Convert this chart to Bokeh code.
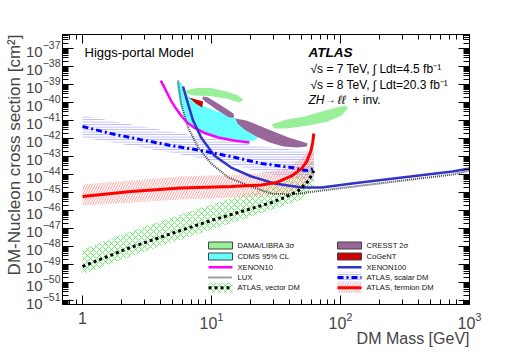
import numpy as np
from bokeh.plotting import figure
from bokeh.models import (Range1d, FixedTicker, LogAxis, Label, LogTickFormatter,
                          CustomJSTickFormatter, Title)
from bokeh.embed import file_html
from bokeh.resources import INLINE

# ---------------- data: DM mass [GeV], cross section [cm^2] ----------------
dama1_m = [6.35, 7.6, 9.95, 13.0, 16.1, 17.7, 16.4, 13.0, 9.6, 7.2, 6.35]
dama1_s = [4.7e-40, 6.4e-40, 6.4e-40, 4.1e-40, 2.45e-40, 1.39e-40, 1.0e-40, 1.66e-40, 2.3e-40, 2.45e-40, 3.16e-40]
dama2_m = [29.2, 38.2, 52.8, 71.6, 93.7, 110, 114, 102, 78.3, 54.7, 38.2, 30.8]
dama2_s = [6.0e-42, 1.15e-41, 1.66e-41, 3.16e-41, 5.3e-41, 6.8e-41, 4.6e-41, 1.9e-41, 8.7e-42, 5.2e-42, 3.6e-42, 3.6e-42]

cdms_m = [5.37, 5.81, 6.35, 7.83, 10.5, 14.2, 17.0, 23.0, 23.7, 21.6, 16.1, 11.2, 8.31, 6.95, 6.16, 5.73, 5.47]
cdms_s = [1.35e-39, 1.35e-39, 3.0e-40, 8.5e-41, 3.6e-41, 1.9e-41, 8.1e-42, 3.5e-42, 1.47e-42, 7.8e-43,
          6.2e-43, 9.6e-43, 1.82e-42, 4.3e-42, 1.5e-41, 8.5e-41, 4.7e-40]

cresst1_m = [8.62, 9.43, 11.9, 14.8, 15.0, 13.7, 10.9, 8.93, 8.47]
cresst1_s = [2.14e-40, 1.9e-40, 6.8e-41, 2.45e-41, 1.47e-41, 1.47e-41, 4.1e-41, 1.15e-40, 1.66e-40]
cresst2_m = [15.3, 18.6, 23.5, 30.3, 39.6, 50.0, 55.7, 54.7, 45.7, 36.2, 28.2, 22.3, 18.0, 15.9]
cresst2_s = [1.29e-41, 1.0e-41, 5.2e-42, 2.45e-42, 1.15e-42, 6.8e-43, 5.3e-43, 3.6e-43, 3.16e-43, 3.6e-43,
             6.0e-43, 1.29e-42, 3.16e-42, 6.8e-42]

cogent_m = [6.70, 8.62, 8.47, 7.60]
cogent_s = [1.9e-40, 1.15e-40, 5.3e-41, 8.7e-41]

xe10_m = [4.05, 4.43, 4.85, 5.31, 5.81, 6.47, 7.33, 9.09, 11.3, 14.8, 19.7]
xe10_s = [1.66e-39, 4.7e-40, 1.29e-40, 4.6e-41, 1.9e-41, 7.8e-42, 4.1e-42, 1.9e-42, 1.15e-42, 7.8e-43, 6.0e-43]

xe100_m = [6.02, 6.47, 7.2, 8.31, 10.5, 14.2, 20.4, 30.8, 50.0, 71.6, 123, 301, 738, 1000]
xe100_s = [7.8e-40, 1.29e-40, 1.0e-41, 1.15e-42, 1.15e-43, 2.45e-44, 7.8e-45, 3.16e-45, 1.9e-45, 1.9e-45,
           3.16e-45, 6.8e-45, 1.47e-44, 2.14e-44]

lux_m = [5.5, 5.81, 6.58, 7.88, 9.95, 13.5, 19.3, 29.2, 41.8, 71.6, 123, 301, 738, 1000]
lux_s = [1.66e-39, 8.7e-41, 4.1e-42, 3.16e-43, 4.1e-44, 6.8e-45, 2.45e-45, 8.7e-46, 7.8e-46, 1.29e-45,
         2.1e-45, 4.6e-45, 1.0e-44, 1.66e-44]

vector_m = [1.0, 2.24, 4.85, 9.95, 20.4, 29.2, 36.9, 47.4, 56.7, 62.1]
vector_s = [7.8e-50, 7.8e-49, 5.2e-48, 2.8e-47, 1.29e-46, 2.8e-46, 5.3e-46, 1.29e-45, 4.6e-45, 1.66e-44]
vector_band_m = [1.0, 2.24, 4.85, 9.95, 20.4, 36.9, 50.0, 62.1]
vector_band_hi = [6.8e-49, 6.0e-48, 4.1e-47, 2.14e-46, 1.0e-45, 4.1e-45, 1.29e-44, 6.0e-44]
vector_band_lo = [2.8e-50, 2.45e-49, 1.66e-48, 8.7e-48, 4.6e-47, 1.9e-46, 4.1e-46, 2.45e-45]

scalar_m = [1.0, 1.65, 2.83, 4.85, 8.31, 14.2, 24.4, 41.8, 54.7, 62.1]
scalar_s = [4.7e-42, 1.9e-42, 8.7e-43, 4.1e-43, 2.14e-43, 1.0e-43, 4.1e-44, 2.45e-44, 1.66e-44, 2.14e-44]
scalar_band_m = [1.0, 2.37, 5.81, 14.2, 24.4, 41.8, 62.1]
scalar_band_hi = [1.9e-41, 6.0e-42, 1.9e-42, 6.8e-43, 3.6e-43, 2.45e-43, 2.14e-43]
scalar_band_lo = [1.15e-42, 4.1e-43, 1.29e-43, 3.6e-44, 1.29e-44, 6.8e-45, 4.6e-45]

fermion_m = [1.0, 2.37, 5.81, 14.2, 24.4, 31.9, 41.8, 50.0, 54.7, 58.8, 60.9, 62.1]
fermion_s = [6.0e-46, 1.15e-45, 1.78e-45, 2.14e-45, 2.6e-45, 3.6e-45, 8.3e-45, 2.14e-44, 5.2e-44, 1.9e-43,
             6.0e-43, 1.9e-42]
fermion_band_m = [1.0, 5.81, 24.4, 38.2, 50.0, 59.8, 62.1]
fermion_band_hi = [2.8e-45, 7.8e-45, 1.15e-44, 2.14e-44, 7.8e-44, 2.8e-43, 4.1e-43]
fermion_band_lo = [1.9e-46, 4.1e-46, 6.0e-46, 8.7e-46, 1.66e-45, 4.6e-45, 8.7e-45]

x_major = [1, 10, 100, 1000]
y_major_exp = list(range(-51, -36))

# ---------------- layout (page pixels of the plot frame) ----------------
W, H = 523, 354
XL, XR = 0.7, 1000.0
YB, YT = 10 ** -51.22, 10 ** -36.22
FX0, FX1, FY0, FY1 = 62.0, 469.0, 34.0, 304.0
lxl, lxr, lyb, lyt = np.log10(XL), np.log10(XR), np.log10(YB), np.log10(YT)


def dx(px):
    return float(10 ** (lxl + (px - FX0) / (FX1 - FX0) * (lxr - lxl)))


def dy(py):
    return float(10 ** (lyt - (py - FY0) / (FY1 - FY0) * (lyt - lyb)))


FONT = "Liberation Sans"

p = figure(width=W, height=H, x_axis_type="log", y_axis_type="log",
           x_range=Range1d(XL, XR), y_range=Range1d(YB, YT),
           output_backend="svg", toolbar_location=None,
           min_border_left=int(FX0), min_border_right=int(W - FX1),
           min_border_top=int(FY0), min_border_bottom=int(H - FY1))
p.xgrid.visible = False
p.ygrid.visible = False
p.outline_line_color = "black"
p.background_fill_color = "white"
p.border_fill_color = "white"

x_minor = [k * 10.0 ** e for e in range(-1, 3) for k in range(2, 10) if XL <= k * 10.0 ** e <= XR]
y_minor = [k * 10.0 ** e for e in range(-52, -36) for k in range(2, 10) if YB <= k * 10.0 ** e <= YT]
xt = FixedTicker(ticks=x_major, minor_ticks=x_minor)
yt = FixedTicker(ticks=[10.0 ** e for e in y_major_exp], minor_ticks=y_minor)


def style_axis(ax, major_in, minor_in):
    ax.major_tick_in = major_in
    ax.major_tick_out = 0
    ax.minor_tick_in = minor_in
    ax.minor_tick_out = 0
    ax.axis_line_color = "black"
    ax.major_tick_line_color = "black"
    ax.minor_tick_line_color = "black"


xa = p.xaxis[0]
xa.ticker = xt
xa.formatter = LogTickFormatter(min_exponent=1)
style_axis(xa, 9, 5)
xa.major_label_text_font = FONT
xa.major_label_text_font_size = "16px"
xa.major_label_standoff = 7

ya = p.yaxis[0]
ya.ticker = yt
ya.formatter = LogTickFormatter()
style_axis(ya, 11, 6)
ya.major_label_text_font = FONT
ya.major_label_text_font_size = "15px"
ya.major_label_standoff = 2

blank = CustomJSTickFormatter(code="return ''")
ax_top = LogAxis(ticker=xt, formatter=blank)
style_axis(ax_top, 9, 5)
ax_top.major_label_standoff = 0
p.add_layout(ax_top, "above")
ax_right = LogAxis(ticker=yt, formatter=blank)
style_axis(ax_right, 11, 6)
ax_right.major_label_standoff = 0
p.add_layout(ax_right, "right")

# axis titles (right-aligned, ROOT style)
p.add_layout(Title(text="DM-Nucleon cross section [cm²]", align="right", text_font=FONT,
                   text_font_size="17px", text_font_style="normal", standoff=0), "left")
p.add_layout(Title(text="DM Mass [GeV]", align="right", text_font=FONT,
                   text_font_size="16px", text_font_style="normal", standoff=-7), "below")

# ---------------- colours ----------------
C_DAMA = "#99f099"
C_CDMS = "#66ffff"
C_CRESST = "#996699"
C_COGENT = "#cc0000"
C_XE10 = "#ff00ff"
C_XE100 = "#3333cc"
C_LUX = "#444444"
C_SCALAR = "#0000ff"
C_FERM = "#ff0000"

# ---------------- filled regions ----------------
p.patch(cdms_m, cdms_s, fill_color=C_CDMS, line_alpha=0)
p.patch(dama1_m, dama1_s, fill_color=C_DAMA, line_alpha=0)
p.patch(dama2_m, dama2_s, fill_color=C_DAMA, line_alpha=0)
p.patch(cresst1_m, cresst1_s, fill_color=C_CRESST, line_alpha=0)
p.patch(cresst2_m, cresst2_s, fill_color=C_CRESST, line_alpha=0)
p.patch(cogent_m, cogent_s, fill_color=C_COGENT, line_alpha=0)


# ---------------- ATLAS bands ----------------
def band(m, lo, hi, **kw):
    xs = list(m) + list(m)[::-1]
    ys = list(hi) + list(lo)[::-1]
    p.patch(xs, ys, fill_alpha=0, line_alpha=0, **kw)


HATCH_V = dict(hatch_pattern="diagonal_cross", hatch_color="#44ee44", hatch_alpha=0.8,
               hatch_scale=6, hatch_weight=1)
HATCH_S = dict(hatch_pattern="horizontal_line", hatch_color="#7777ff", hatch_alpha=0.6,
               hatch_scale=2.5, hatch_weight=1)
HATCH_F = dict(hatch_pattern="right_diagonal_line", hatch_color="#ff8888", hatch_alpha=0.8,
               hatch_scale=5, hatch_weight=1)

band(vector_band_m, vector_band_lo, vector_band_hi, **HATCH_V)
band(scalar_band_m, scalar_band_lo, scalar_band_hi, **HATCH_S)
band(fermion_band_m, fermion_band_lo, fermion_band_hi, **HATCH_F)

# ---------------- limit curves ----------------
p.line(lux_m, lux_s, line_color=C_LUX, line_width=2, line_dash="1 1")
p.line(xe10_m, xe10_s, line_color=C_XE10, line_width=2.5)
p.line(xe100_m, xe100_s, line_color=C_XE100, line_width=2.5)
p.line(scalar_m, scalar_s, line_color=C_SCALAR, line_width=3, line_dash="6 3 2 3")
p.line(fermion_m, fermion_s, line_color=C_FERM, line_width=3)
p.line(vector_m, vector_s, line_color="black", line_width=3, line_dash="3 3")

# ---------------- legend (drawn by hand) ----------------
rows = [245.0, 256.0, 266.7, 277.0, 287.3]
col_x = [208.0, 337.0]
sw_w = 24.0


def box(cx, ry, **kw):
    p.quad(left=[dx(cx)], right=[dx(cx + sw_w)], top=[dy(ry - 3.5)], bottom=[dy(ry + 3.5)], **kw)


def hbox(cx, ry, **kw):
    p.quad(left=[dx(cx)], right=[dx(cx + sw_w)], top=[dy(ry - 5)], bottom=[dy(ry + 5)],
           fill_alpha=0, line_alpha=0, **kw)


def hline(cx, ry, **kw):
    p.line([dx(cx), dx(cx + sw_w)], [dy(ry), dy(ry)], **kw)


L, R = col_x
box(L, rows[0], fill_color=C_DAMA, line_color="#444444", line_width=1)
box(L, rows[1], fill_color=C_CDMS, line_color="#444444", line_width=1)
hline(L, rows[2], line_color=C_XE10, line_width=2.5)
hline(L, rows[3], line_color=C_LUX, line_width=2, line_dash="1 1")
hbox(L, rows[4], **HATCH_V)
hline(L, rows[4], line_color="black", line_width=3, line_dash="3 3")

box(R, rows[0], fill_color=C_CRESST, line_color="#444444", line_width=1)
box(R, rows[1], fill_color=C_COGENT, line_color="#444444", line_width=1)
hline(R, rows[2], line_color=C_XE100, line_width=2.5)
hbox(R, rows[3], **HATCH_S)
hline(R, rows[3], line_color=C_SCALAR, line_width=3, line_dash="6 3 2 3")
hbox(R, rows[4], **HATCH_F)
hline(R, rows[4], line_color=C_FERM, line_width=3)

leg_left = ["DAMA/LIBRA 3σ", "CDMS 95% CL", "XENON10", "LUX", "ATLAS, vector DM"]
leg_right = ["CRESST 2σ", "CoGeNT", "XENON100", "ATLAS, scalar DM", "ATLAS, fermion DM"]
for txts, cx in ((leg_left, L), (leg_right, R)):
    for t, ry in zip(txts, rows):
        p.add_layout(Label(x=dx(cx + 29), y=dy(ry), text=t, text_font=FONT, text_font_size="7.6px",
                           text_baseline="middle", text_align="left", text_color="#111111"))


# ---------------- annotations ----------------
def lab(px, py, t, size, style="normal", align="left"):
    p.add_layout(Label(x=dx(px), y=dy(py), text=t, text_font=FONT, text_font_size=size,
                       text_font_style=style, text_baseline="middle", text_align=align,
                       text_color="black"))


lab(84, 52, "Higgs-portal Model", "13px")
lab(308, 52, "ATLAS", "13.5px", style="bold italic")
lab(310, 68, "√s = 7 TeV,  ∫ Ldt=4.5 fb⁻¹", "12px")
lab(310, 84, "√s = 8 TeV,  ∫ Ldt=20.3 fb⁻¹", "12px")
lab(308, 99, "ZH", "12px", style="italic")
lab(325, 99, "→", "10px")
lab(337, 99, "ℓℓ", "12px", style="italic")
lab(352, 99, "+ inv.", "12px")

open("out.html", "w").write(file_html(p, INLINE))
